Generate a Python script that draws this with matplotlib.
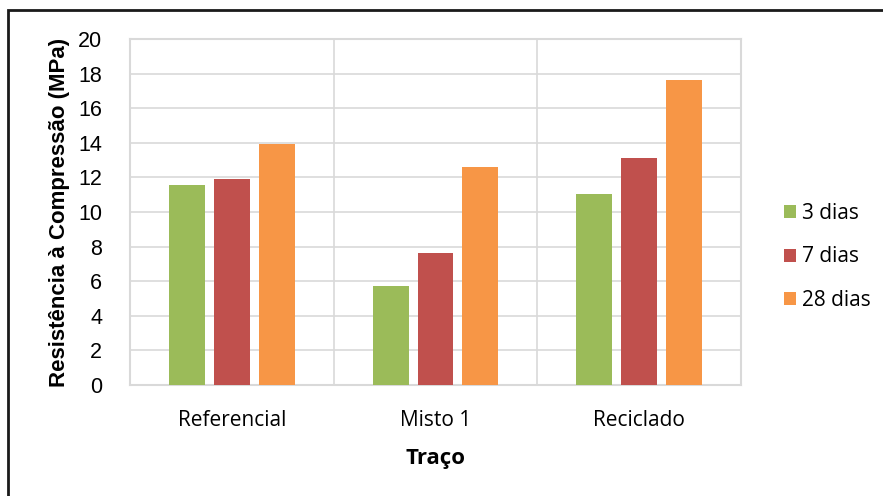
import matplotlib
matplotlib.use("Agg")
import matplotlib.pyplot as plt
import numpy as np
from matplotlib.patches import Rectangle

tracos = ["Referencial", "Misto 1", "Reciclado"]
dias3 = [11.56, 5.74, 11.02]
dias7 = [11.90, 7.62, 13.15]
dias28 = [13.93, 12.58, 17.61]
series_labels = ["3 dias", "7 dias", "28 dias"]
yticks = [0, 2, 4, 6, 8, 10, 12, 14, 16, 18, 20]

cores = ["#9BBB59", "#C0504D", "#F79646"]
grid_col = "#D9D9D9"

fig = plt.figure(figsize=(8.83, 4.96), dpi=100)
W, H = 883, 496
ax = fig.add_axes([130 / W, 1 - 385 / H, (741 - 130) / W, (385 - 39) / H])

x = np.arange(len(tracos))
larg = 0.176
passo = 0.22
for k, (vals, lab) in enumerate(zip([dias3, dias7, dias28], series_labels)):
    ax.bar(x + (k - 1) * passo, vals, larg, color=cores[k], label=lab, zorder=3)

ax.set_xlim(-0.5, 2.5)
ax.set_ylim(0, 20)
ax.set_yticks(yticks)
ax.set_yticklabels([str(v) for v in yticks], fontsize=15.5, family="Liberation Sans")
ax.set_xticks(x)
ax.set_xticklabels(tracos, fontsize=15, family="Open Sans")
ax.tick_params(axis="both", length=0)
ax.tick_params(axis="y", pad=20)
ax.tick_params(axis="x", pad=18)

ax.grid(axis="y", color=grid_col, lw=1.2, zorder=0)
for xv in [0.5, 1.5]:
    ax.axvline(xv, color=grid_col, lw=1.2, zorder=0)
for s in ax.spines.values():
    s.set_color(grid_col)
    s.set_linewidth(1.5)

ax.set_ylabel("Resistência à Compressão (MPa)", fontsize=16, fontweight="bold",
              family="Liberation Sans", labelpad=6)
ax.set_xlabel("Traço", fontsize=16, fontweight="bold", family="Open Sans", labelpad=12)

ax.legend(loc="center left", bbox_to_anchor=(1.039, 0.37), frameon=False,
          prop={"family": "Open Sans", "size": 15}, handlelength=0.6,
          handleheight=0.6, handletextpad=0.3, labelspacing=1.08)

# moldura externa
fig.patches.append(Rectangle((8 / W, 0 / H - 0.05), 1.1, 1 - 10 / H + 0.05,
                             transform=fig.transFigure, fill=False,
                             edgecolor="#1A1A1A", lw=2, zorder=10))

fig.savefig("out.png", dpi=100)
